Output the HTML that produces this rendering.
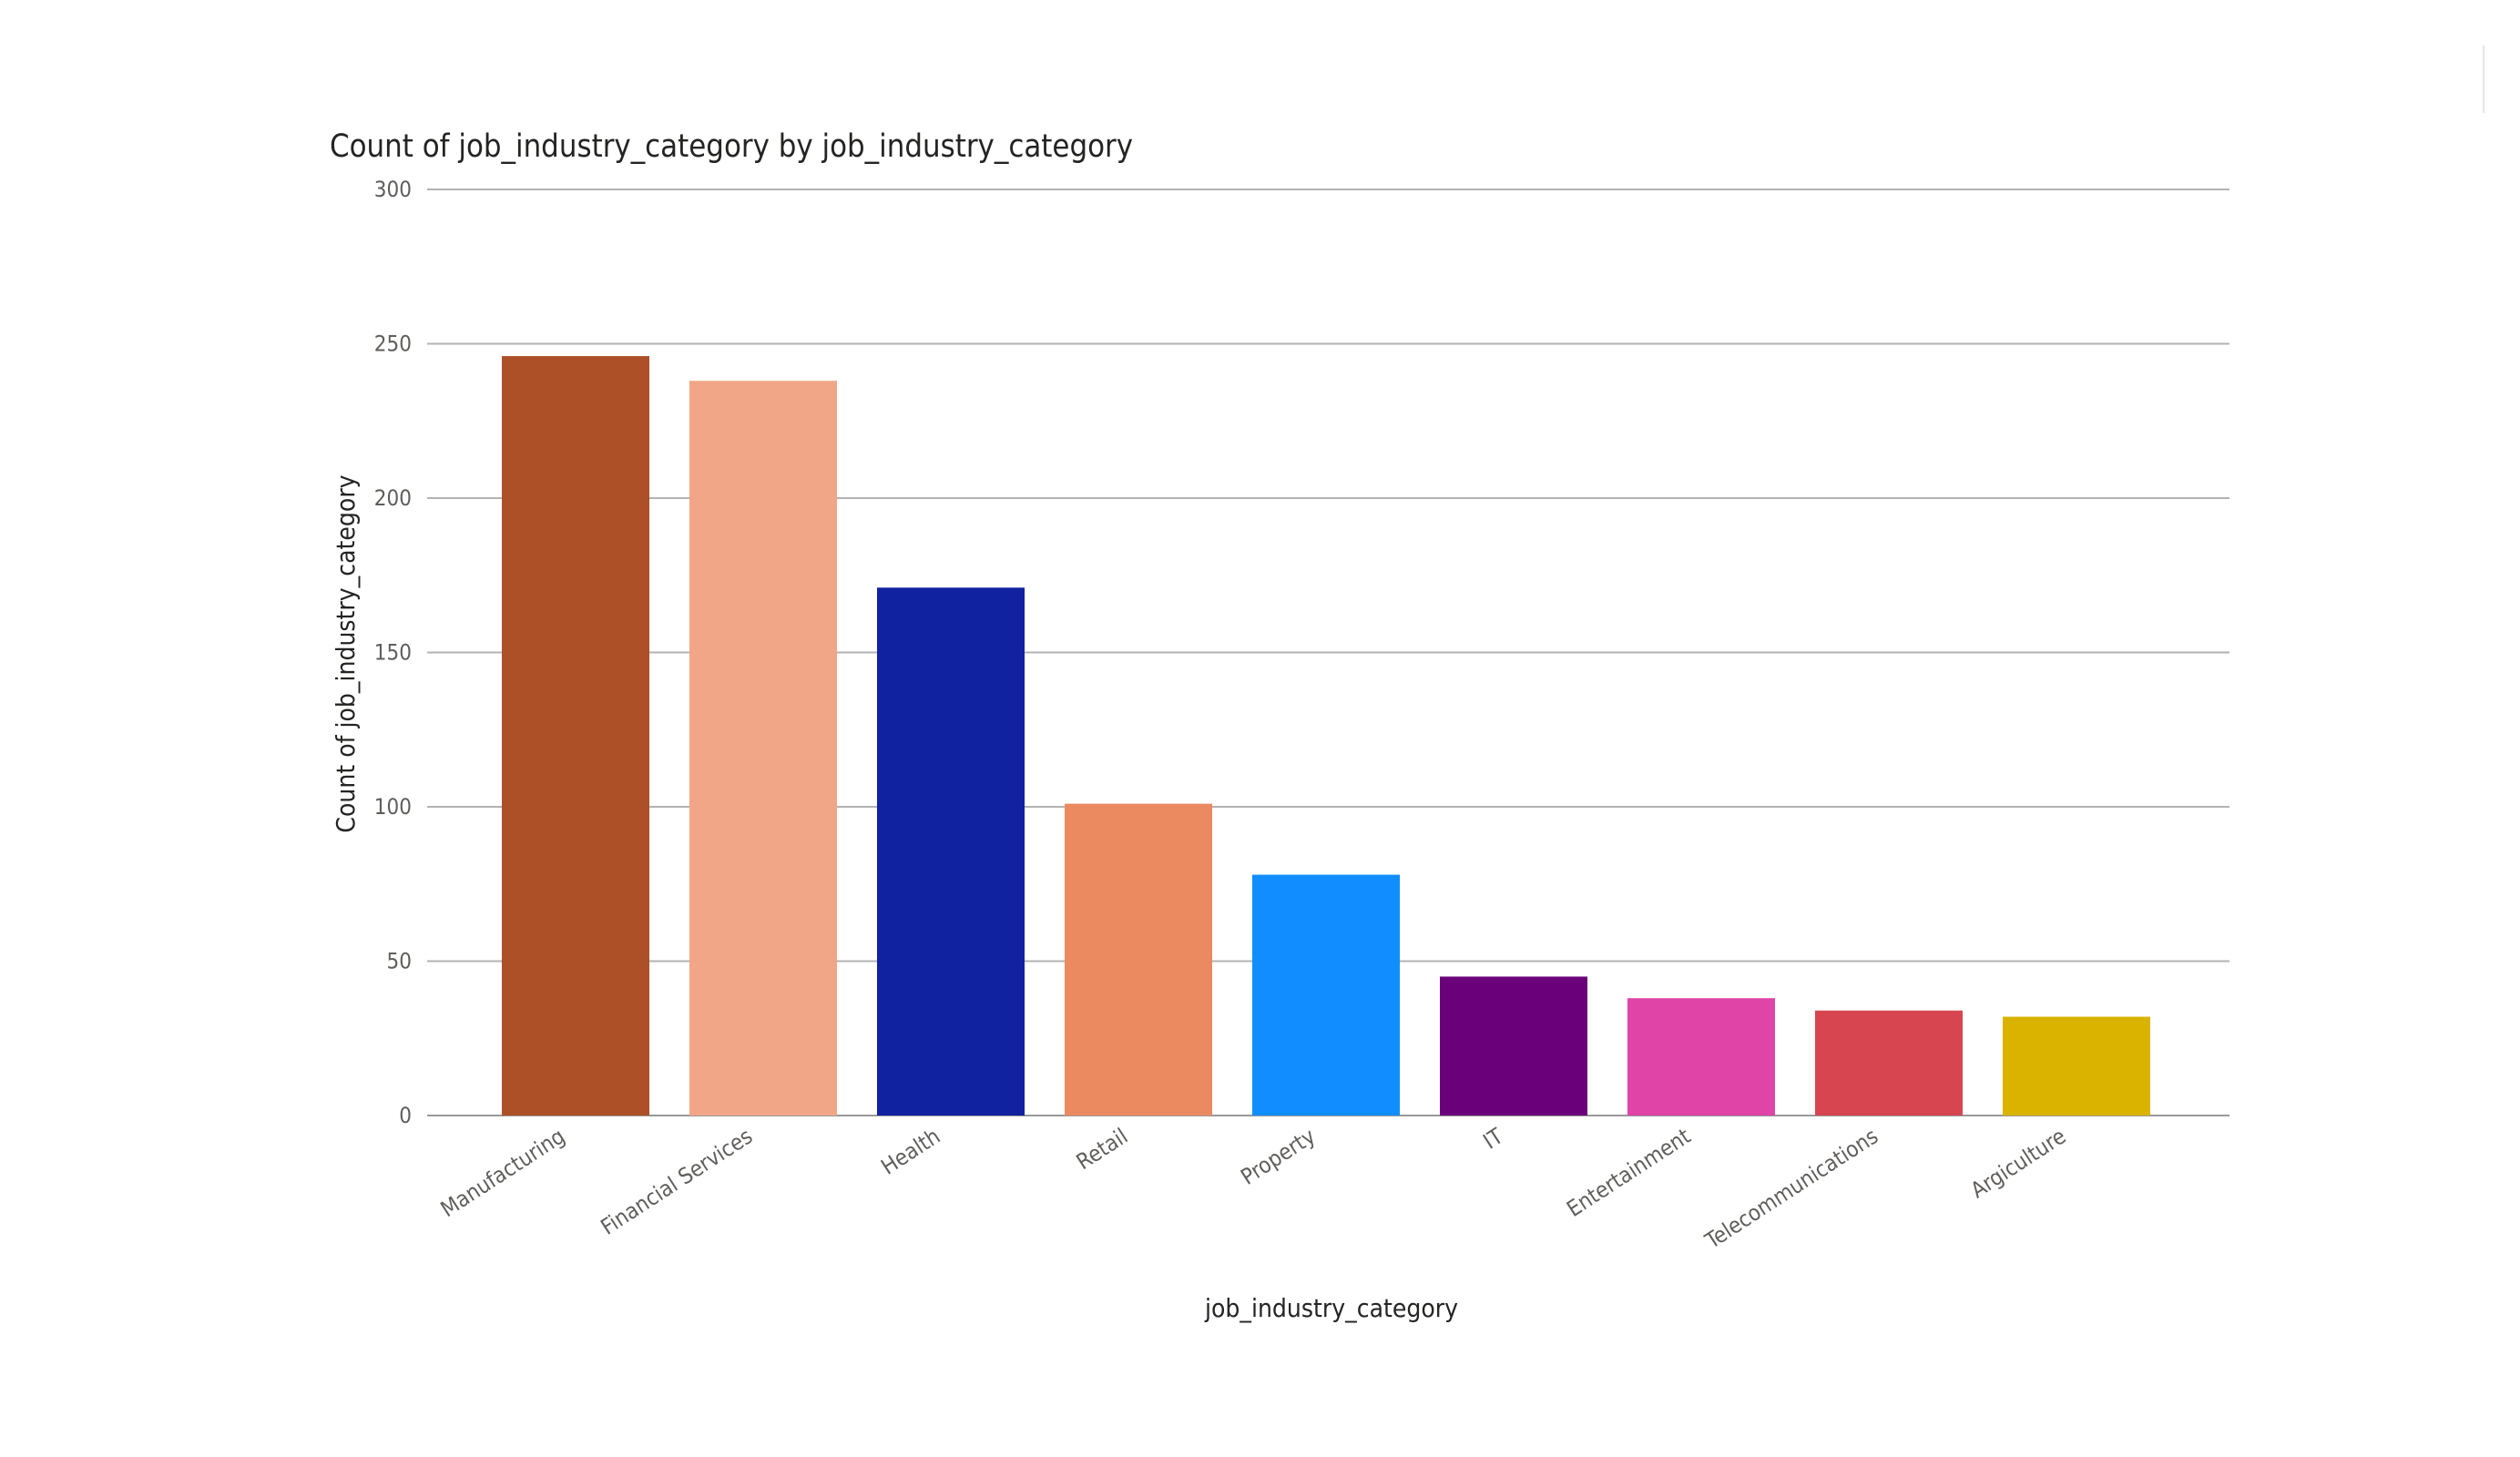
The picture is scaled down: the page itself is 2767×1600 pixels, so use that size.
<!DOCTYPE html>
<html><head><meta charset="utf-8"><style>
html,body{margin:0;padding:0;background:#fff;}
svg{display:block;font-family:"DejaVu Sans Condensed","Liberation Sans",sans-serif;}
</style></head><body>
<svg id="chart" width="2767" height="1600" viewBox="0 0 2767 1600">
<line x1="2727" y1="50" x2="2727" y2="124" stroke="#e6e6e6" stroke-width="2"/>
<text x="362" y="172" font-size="34.4" fill="#252423">Count of job_industry_category by job_industry_category</text>
<g id="grid"></g><g id="bars"></g><g id="xlabels"></g>
<text transform="translate(389,718) rotate(-90)" text-anchor="middle" font-size="28" fill="#252423">Count of job_industry_category</text>
<text x="1462" y="1446" text-anchor="middle" font-size="28" fill="#252423">job_industry_category</text>
</svg>
<script>
const categories=["Manufacturing","Financial Services","Health","Retail","Property","IT","Entertainment","Telecommunications","Argiculture"];
const values=[246,238,171,101,78,45,38,34,32];
const colors=["#AD5027","#F0A687","#1022A0","#EB8A60","#118DFF","#6B007B","#E044A7","#D64550","#D9B300"];
const yTicks=[0,50,100,150,200,250,300];
const NS="http://www.w3.org/2000/svg";
const x0=469,x1=2448,y0=1225,yTop=208,yMax=300;
const y=v=>y0-(v/yMax)*(y0-yTop);
const step=206,bw=162,firstX=551;
const xb=i=>firstX+i*step;
function mk(t,a,p){const e=document.createElementNS(NS,t);for(const k in a)e.setAttribute(k,a[k]);p.appendChild(e);return e;}
const g=document.getElementById('grid'),b=document.getElementById('bars'),xl=document.getElementById('xlabels');
yTicks.forEach(t=>{
 const l=mk('line',{x1:x0,x2:x1,y1:y(t),y2:y(t),stroke:t===0?'#999':'#b3b3b3','stroke-width':2},g);
 
 
 const tx=mk('text',{x:452,y:y(t)+8,'text-anchor':'end','font-size':24,fill:'#605e5c'},g);
 tx.textContent=t;
 
 
});
categories.forEach((c,i)=>{
 const r=mk('rect',{x:xb(i),y:y(values[i]),width:bw,height:y0-y(values[i]),fill:colors[i]},b);
 
 
 const cx=xb(i)+bw/2-10;
 const t=mk('text',{x:cx,y:1252,'text-anchor':'end','font-size':24,fill:'#605e5c',transform:`rotate(-33 ${cx} 1252)`},xl);
 t.textContent=c;
 
 
});
</script>
</body></html>
